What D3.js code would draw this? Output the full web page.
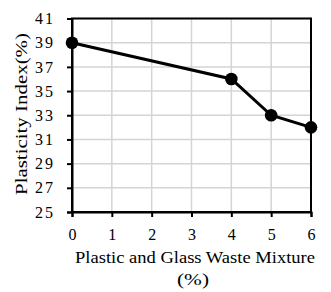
<!DOCTYPE html>
<html>
<head>
<meta charset="utf-8">
<script src="https://cdn.jsdelivr.net/npm/d3@7"></script>
<style>
  body { margin: 0; background: #fff; }
  text { font-family: "Liberation Serif", "Times New Roman", serif; fill: #000; }
</style>
</head>
<body>
<svg width="331" height="292"></svg>
<script>
let mixture = [0, 4, 5, 6];
let plasticity = [39, 36, 33, 32];
let xTicks = [0, 1, 2, 3, 4, 5, 6];
let yTicks = [25, 27, 29, 31, 33, 35, 37, 39, 41];

let svg = d3.select('svg');

let plotLeft = 72, plotRight = 311, plotTop = 18.5, plotBottom = 212;

let x = d3.scaleLinear().domain([0, 6]).range([plotLeft, plotRight]);
let y = d3.scaleLinear().domain([25, 41]).range([plotBottom, plotTop]);

// grid
svg.append('g')
  .selectAll('line')
  .data(xTicks)
  .join('line')
    .attr('x1', d => x(d)).attr('x2', d => x(d))
    .attr('y1', plotTop).attr('y2', plotBottom)
    .attr('stroke', '#d4d4d4').attr('stroke-width', 1.5);

svg.append('g')
  .selectAll('line')
  .data(yTicks)
  .join('line')
    .attr('x1', plotLeft).attr('x2', plotRight)
    .attr('y1', d => y(d)).attr('y2', d => y(d))
    .attr('stroke', '#d4d4d4').attr('stroke-width', 1.5);

// frame
svg.append('rect')
  .attr('x', plotLeft).attr('y', plotTop)
  .attr('width', plotRight - plotLeft).attr('height', plotBottom - plotTop)
  .attr('fill', 'none').attr('stroke', '#000').attr('stroke-width', 2);

let xAxis = svg.append('g')
  .attr('transform', `translate(0, ${plotBottom})`)
  .call(d3.axisBottom(x).tickValues(xTicks).tickSize(5).tickPadding(11.5).tickFormat(d3.format('d')));

let yAxis = svg.append('g')
  .attr('transform', `translate(${plotLeft}, 0)`)
  .call(d3.axisLeft(y).tickValues(yTicks).tickSize(5).tickPadding(12).tickFormat(d3.format('d')));

[xAxis, yAxis].forEach(a => {
  a.select('.domain').attr('stroke', '#000').attr('stroke-width', 2);
  a.selectAll('.tick line').attr('stroke', '#000').attr('stroke-width', 2);
  a.selectAll('text')
    .attr('font-size', null).attr('font-family', null)
    .style('font-size', '16px')
    .style('letter-spacing', '2px');
});
xAxis.selectAll('text').attr('dx', '1px');

// line
let line = d3.line()
  .x((d, i) => x(mixture[i]))
  .y(d => y(d));

svg.append('path')
  .datum(plasticity)
  .attr('d', line)
  .attr('fill', 'none')
  .attr('stroke', '#000')
  .attr('stroke-width', 3);

svg.append('g')
  .selectAll('circle')
  .data(plasticity)
  .join('circle')
    .attr('cx', (d, i) => x(mixture[i]))
    .attr('cy', d => y(d))
    .attr('r', 6.3)
    .attr('fill', '#000');

// titles
svg.append('text')
  .attr('transform', 'translate(27, 114) rotate(-90)')
  .attr('text-anchor', 'middle')
  .attr('textLength', 162)
  .attr('lengthAdjust', 'spacingAndGlyphs')
  .style('font-size', '17px')
  .text('Plasticity Index(%)');

svg.append('text')
  .attr('x', 195).attr('y', 263)
  .attr('text-anchor', 'middle')
  .attr('textLength', 240)
  .attr('lengthAdjust', 'spacingAndGlyphs')
  .style('font-size', '16.5px')
  .text('Plastic and Glass Waste Mixture');

svg.append('text')
  .attr('x', 193).attr('y', 285)
  .attr('text-anchor', 'middle')
  .attr('textLength', 32)
  .attr('lengthAdjust', 'spacingAndGlyphs')
  .style('font-size', '16.5px')
  .text('(%)');
</script>
</body>
</html>
